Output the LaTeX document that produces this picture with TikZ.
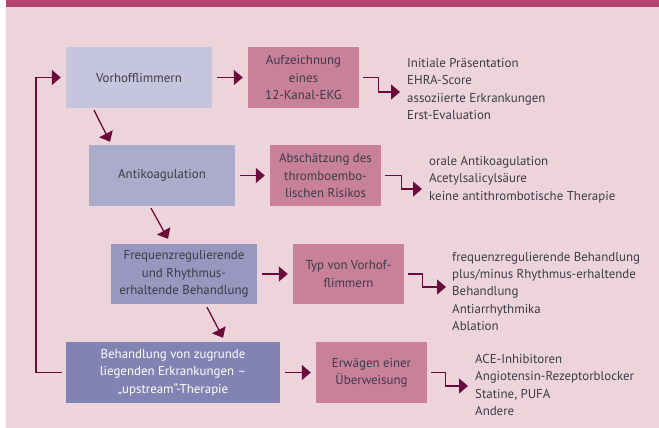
\documentclass[tikz,border=0pt]{standalone}
\usepackage{fontspec}
\setmainfont{PT Sans}
\usetikzlibrary{arrows.meta,calc}
\definecolor{bgpink}{HTML}{EDD4DB}
\definecolor{barpink}{HTML}{B44573}
\definecolor{lav1}{HTML}{C5C5DD}
\definecolor{lav2}{HTML}{ABABCC}
\definecolor{lav3}{HTML}{9797C0}
\definecolor{lav4}{HTML}{8282B3}
\definecolor{rose}{HTML}{C98099}
\definecolor{maroon}{HTML}{6B0B3C}
\definecolor{txt}{HTML}{3C3C46}
\begin{document}
\begin{tikzpicture}[x=1pt,y=-1pt,
  every node/.style={font=\fontsize{12.9}{17.4}\selectfont, text=txt},
  box/.style={rectangle, inner sep=0pt, align=center, minimum height=61pt},
  stepbox/.style={box, minimum width=146pt},
  actbox/.style={box, fill=rose, minimum width=111pt},
  listtext/.style={anchor=west, align=left, inner sep=0pt},
  conn/.style={draw=maroon, line width=1.3pt,
    -{Triangle[length=9pt,width=15pt]}, color=maroon},
  loopline/.style={draw=maroon, line width=1.2pt,
    -{Triangle[length=9pt,width=15pt]}, color=maroon}
]
\useasboundingbox (0,0) rectangle (659,428);
% background and header strip
\fill[bgpink] (6,7) rectangle (659,428);
\fill[barpink] (6,0) rectangle (659,7);

% main steps
\node[stepbox, fill=lav1] (s1) at (139,77.5) {Vorhofflimmern};
\node[stepbox, fill=lav2] (s2) at (162,175.5) {Antikoagulation};
\node[stepbox, fill=lav3, minimum height=60pt] (s3) at (184,274)
  {Frequenzregulierende\\und Rhythmus-\\erhaltende Behandlung};
\node[stepbox, fill=lav4, minimum width=214pt, text=white] (s4) at (173,372.5)
  {Behandlung von zugrunde\\liegenden Erkrankungen --\\„upstream“-Therapie};

% actions
\node[actbox] (a1) at (303.5,77.5) {Aufzeichnung\\eines\\12-Kanal-EKG};
\node[actbox] (a2) at (325.5,175.5) {Abschätzung des\\thromboembo-\\lischen Risikos};
\node[actbox, minimum height=60pt] (a3) at (348.5,274) {Typ von Vorhof-\\flimmern};
\node[actbox] (a4) at (371.5,372.5) {Erwägen einer\\Überweisung};

% option lists
\node[listtext] (l1) at (407,89)
  {Initiale Präsentation\\EHRA-Score\\assoziierte Erkrankungen\\Erst-Evaluation};
\node[listtext] (l2) at (429,179.5)
  {orale Antikoagulation\\Acetylsalicylsäure\\keine antithrombotische Therapie};
\node[listtext] (l3) at (452,291.5)
  {frequenzregulierende Behandlung\\plus/minus Rhythmus-erhaltende\\Behandlung\\Antiarrhythmika\\Ablation};
\node[listtext] (l4) at (475,385)
  {ACE-Inhibitoren\\Angiotensin-Rezeptorblocker\\Statine, PUFA\\Andere};

% step -> action
\foreach \i in {1,2,3,4}
  \draw[conn, shorten <=5pt, shorten >=5pt] (s\i.east) -- (a\i.west);

% action -> options (elbow connectors)
\draw[conn, shorten <=4pt] (a1.east) -- ++(19,0) |- ($(l1.west)+(-7,3)$);
\draw[conn, shorten <=4pt] (a2.east) -- ++(20,0) |- ($(l2.west)+(-7,9.5)$);
\draw[conn, shorten <=4pt] (a3.east) -- ++(18,0) |- ($(l3.west)+(-6,-4.5)$);
\draw[conn, shorten <=4pt] (a4.east) -- ++(18,0) |- ($(l4.west)+(-7,1)$);

% step -> next step (diagonals)
\draw[conn] ($(s1.south)+(-45,2)$) -- ($(s2.north)+(-52,-3)$);
\draw[conn] ($(s2.south)+(-11,2)$) -- ($(s3.north)+(-16,-5)$);
\draw[conn] ($(s3.south)+(23,3)$) -- ($(s4.north)+(50,-4)$);

% return loop
\draw[loopline, shorten <=4pt, shorten >=5pt] (s4.west) -- (36,372.5) |- (s1.west);
\end{tikzpicture}
\end{document}
